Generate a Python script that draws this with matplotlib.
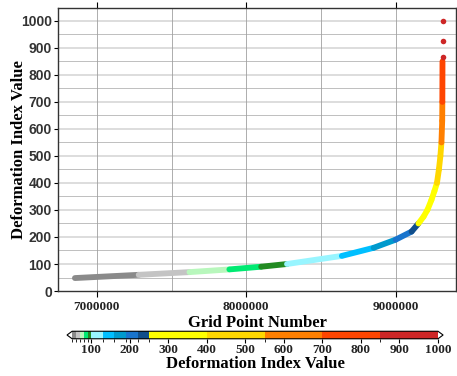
import numpy as np
import matplotlib
matplotlib.use("Agg")
import matplotlib.pyplot as plt
from matplotlib.collections import LineCollection
from matplotlib.colors import ListedColormap, BoundaryNorm

# ---- data ----
curve_x = [6.853e6, 7.28e6, 7.62e6, 7.887e6, 8.10e6, 8.273e6, 8.64e6, 8.853e6,
           9.0e6, 9.107e6, 9.153e6, 9.187e6, 9.213e6, 9.24e6, 9.26e6, 9.277e6,
           9.29e6, 9.30e6, 9.307e6, 9.312e6, 9.313e6, 9.314e6]
curve_y = [48, 60, 70, 80, 90, 100, 130, 160, 190, 220, 250, 275, 300, 337, 370,
           400, 450, 500, 550, 630, 700, 850]
outlier_x = [9.315e6, 9.315e6, 9.315e6]
outlier_y = [865, 925, 1000]

levels = [50, 60, 70, 80, 90, 100, 130, 160, 190, 220, 250, 400, 550, 700, 850, 1000]
colors = ["#8a8a8a", "#c4c4c4", "#b8f7bc", "#00ea72", "#228b22", "#98f5ff",
          "#00bfff", "#009acd", "#1874cd", "#104e8b", "#ffff00", "#ffd700",
          "#ff7f00", "#ff4500", "#cd2626"]
cbar_ticks = [100, 200, 300, 400, 500, 600, 700, 800, 900, 1000]
x_ticks = [7000000, 8000000, 9000000]
y_ticks = list(range(0, 1001, 100))

cmap = ListedColormap(colors)
cmap.set_under("white")
cmap.set_over("white")
norm = BoundaryNorm(levels, cmap.N)

serif = ["Liberation Serif", "DejaVu Serif"]
sans = ["Liberation Sans", "DejaVu Sans"]

fig = plt.figure(figsize=(4.57, 3.76), dpi=100)
ax = fig.add_axes([0.127, 0.226, 0.871, 0.753])

ax.set_xlim(6.74e6, 9.405e6)
ax.set_ylim(0, 1048)

# grid
for v in np.arange(50, 1048, 50):
    if v % 100 == 0:
        ax.axhline(v, color="#dadada", lw=1.3, zorder=0)
    else:
        ax.axhline(v, color="#b4b4b4", lw=0.6, zorder=0)
for v in np.arange(7.0e6, 9.4e6, 5e5):
    ax.axvline(v, color="#a0a0a0", lw=0.6, zorder=0)

# colored curve
pts = np.column_stack([curve_x, curve_y])
segs = np.stack([pts[:-1], pts[1:]], axis=1)
mid = (np.array(curve_y[:-1]) + np.array(curve_y[1:])) / 2.0
lc = LineCollection(segs, cmap=cmap, norm=norm, linewidths=4.2,
                    capstyle="round", joinstyle="round", zorder=3)
lc.set_array(mid)
ax.add_collection(lc)

ax.scatter(outlier_x, outlier_y, color=colors[-1], s=16, zorder=4, linewidths=0)

ax.set_xticks(x_ticks)
ax.set_xticklabels([str(v) for v in x_ticks], fontfamily=serif,
                   fontweight="bold", fontsize=9.5, color="#222222")
ax.set_yticks(y_ticks)
ax.set_yticklabels([str(v) for v in y_ticks], fontfamily=sans,
                   fontweight="bold", fontsize=10, color="#333333")
ax.tick_params(axis="x", top=True, direction="out", length=4, width=0.8)
ax.tick_params(axis="y", direction="out", length=3, width=0.8, pad=1.5)
for s in ax.spines.values():
    s.set_linewidth(1.0)
    s.set_color("#333333")

ax.set_xlabel("Grid Point Number", fontfamily=serif, fontweight="bold",
              fontsize=12, labelpad=1)
ax.set_ylabel("Deformation Index Value", fontfamily=serif, fontweight="bold",
              fontsize=12)
ax.yaxis.set_label_coords(-0.078, 0.5)

# colorbar
cax = fig.add_axes([0.1466, 0.099, 0.823, 0.02])
sm = matplotlib.cm.ScalarMappable(norm=norm, cmap=cmap)
cb = fig.colorbar(sm, cax=cax, orientation="horizontal", extend="both",
                  extendfrac=0.014, ticks=cbar_ticks, spacing="proportional")
cb.outline.set_linewidth(0.8)
cb.ax.set_xticklabels([str(v) for v in cbar_ticks], fontfamily=serif,
                      fontweight="bold", fontsize=9.5, color="#222222")
cb.ax.tick_params(length=3, width=0.8, pad=1)
cb.set_label("Deformation Index Value", fontfamily=serif, fontweight="bold",
             fontsize=12, labelpad=0)

fig.savefig("out.png", dpi=100)
